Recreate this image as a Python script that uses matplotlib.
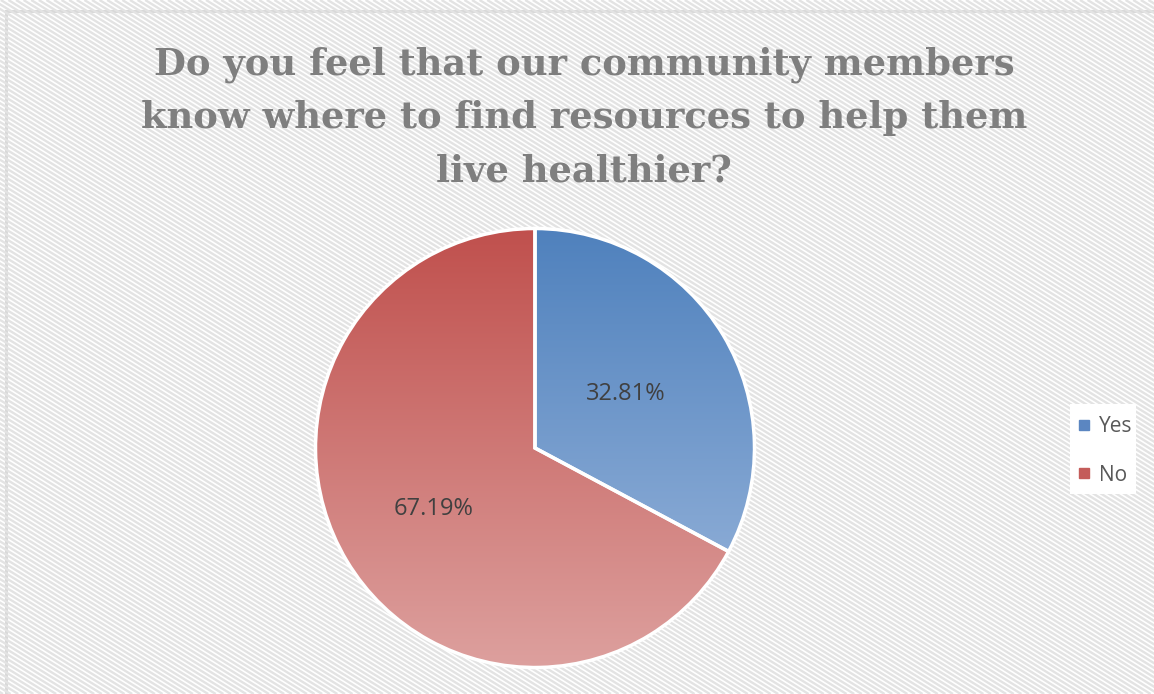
import numpy as np
import matplotlib.pyplot as plt
from matplotlib.collections import LineCollection
from matplotlib.patches import Rectangle
from matplotlib.lines import Line2D
from matplotlib.colors import to_rgb

# Datos del gráfico
title = ('Do you feel that our community members\n'
         'know where to find resources to help them\n'
         'live healthier?')
categories = ['Yes', 'No']
percentages = [32.81, 67.19]

# Colores (degradado arriba -> abajo)
top_colors = ['#4F81BD', '#C0504D']
bottom_colors = ['#9DB8DD', '#DDA09E']
legend_colors = ['#5B86C1', '#C45C5A']
label_dist = [0.48, 0.54]

W, H = 1154, 694
fig = plt.figure(figsize=(W / 100, H / 100), dpi=100)
fig.patch.set_facecolor('white')

# Fondo con rayas diagonales
bg = fig.add_axes([0, 0, 1, 1])
bg.set_xlim(0, W)
bg.set_ylim(H, 0)
bg.axis('off')
frame = Rectangle((6, 11), W, H, facecolor='white', edgecolor='#d9d9d9',
                  linewidth=2.2, zorder=0)
bg.add_patch(frame)
slope = 0.62
segs = [[(x0, 0), (x0 + H / slope, H)] for x0 in np.arange(-1200, W + 10, 7.6)]
lc = LineCollection(segs, colors='#e3e3e3', linewidths=1.7, zorder=1)
lc.set_clip_path(Rectangle((7, 12), W, H, transform=bg.transData))
bg.add_collection(lc)

# Título
fig.text(584 / W, 1 - 118 / H, title, ha='center', va='center',
         fontsize=26.6, fontweight='bold', color='#7f7f7f',
         family='DejaVu Serif', linespacing=1.62)

# Pastel
cx, cy, r = 535, 448, 219.5
ax = fig.add_axes([(cx - r) / W, (H - cy - r) / H, 2 * r / W, 2 * r / H])

wedges, _ = ax.pie(percentages, startangle=90, counterclock=False, radius=1,
                   colors=['none', 'none'],
                   wedgeprops=dict(edgecolor='none'))

n = 256
t = np.linspace(0, 1, n)[:, None]
for w, c0, c1 in zip(wedges, top_colors, bottom_colors):
    a, b = np.array(to_rgb(c0)), np.array(to_rgb(c1))
    grad = (a[None, :] * (1 - t) + b[None, :] * t)[:, None, :]
    im = ax.imshow(grad, extent=[-1, 1, -1, 1], aspect='auto', zorder=1,
                   interpolation='bilinear')
    im.set_clip_path(w)
    w.set_facecolor('none')
    w.set_edgecolor('white')
    w.set_linewidth(2.5)
    w.set_zorder(2)

# Etiquetas de porcentaje
ang = 90.0
for p, d in zip(percentages, label_dist):
    mid = np.deg2rad(ang - p / 100 * 360 / 2)
    ax.text(d * np.cos(mid), d * np.sin(mid), f'{p:.2f}%', ha='center',
            va='center', fontsize=17, color='#404040', family='Open Sans',
            zorder=3)
    ang -= p / 100 * 360

ax.set_xlim(-1, 1)
ax.set_ylim(-1, 1)
ax.set_aspect('equal')
ax.axis('off')

# Leyenda
bg.add_patch(Rectangle((1070, 404), 66, 90, facecolor='white',
                       edgecolor='none', zorder=2))
handles = [Line2D([], [], marker='s', linestyle='none', markersize=7,
                  markerfacecolor=c, markeredgecolor=c) for c in legend_colors]
fig.legend(handles, categories, loc='center left',
           bbox_to_anchor=(1057 / W, 1 - 451 / H), frameon=False,
           prop=dict(family='Open Sans', size=15), labelcolor='#595959',
           labelspacing=1.3, handletextpad=0.1, handlelength=1.2,
           borderpad=0.2)

fig.savefig('out.png', dpi=100)
